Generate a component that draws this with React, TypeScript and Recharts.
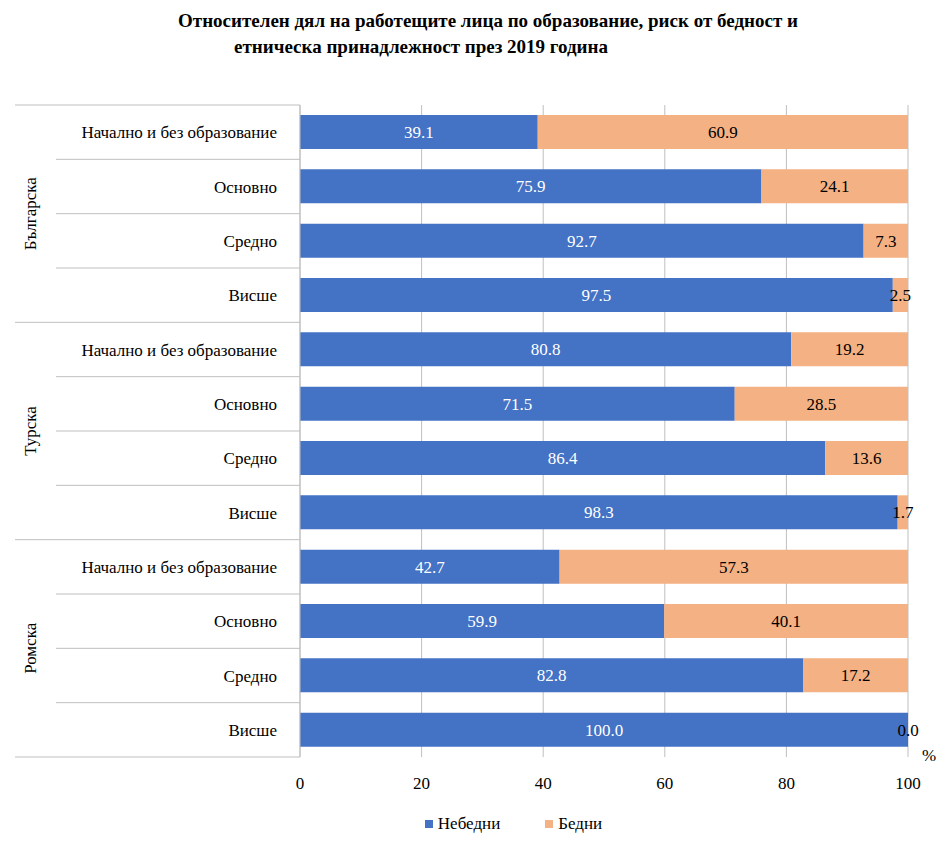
import { BarChart, Bar, XAxis, YAxis, CartesianGrid, LabelList } from 'recharts'

const groups = ['Българска', 'Турска', 'Ромска']
const levels = ['Начално и без образование', 'Основно', 'Средно', 'Висше']
const nonPoor = [39.1, 75.9, 92.7, 97.5, 80.8, 71.5, 86.4, 98.3, 42.7, 59.9, 82.8, 100.0]
const poor = [60.9, 24.1, 7.3, 2.5, 19.2, 28.5, 13.6, 1.7, 57.3, 40.1, 17.2, 0.0]
const xTicks = [0, 20, 40, 60, 80, 100]

const data = nonPoor.map((v, i) => ({
  key: `${groups[Math.floor(i / 4)]}-${i % 4}`,
  group: groups[Math.floor(i / 4)],
  level: levels[i % 4],
  nonPoor: v,
  poor: poor[i],
}))

const TOP = 105
const BOTTOM = 757
const BAND = (BOTTOM - TOP) / data.length
const FONT = "'Liberation Serif', 'Times New Roman', serif"

const CategoryTick = (props: any) => {
  const { x, y, payload, index } = props
  const row = data[index]
  const idx = index % 4
  const bottom = y + BAND / 2
  return (
    <g>
      <text x={x - 15} y={y} dy={6} textAnchor="end" style={{ fontFamily: FONT, fontSize: 17 }} fill="#000">
        {row ? row.level : payload.value}
      </text>
      {index === 0 && <line x1={15} x2={300} y1={y - BAND / 2} y2={y - BAND / 2} stroke="#bfbfbf" />}
      <line x1={idx === 3 ? 15 : 56} x2={300} y1={bottom} y2={bottom} stroke="#bfbfbf" />
      {idx === 1 && (
        <text
          x={36}
          y={bottom}
          textAnchor="middle"
          style={{ fontFamily: FONT, fontSize: 17 }}
          fill="#000"
          transform={`rotate(-90 36 ${bottom})`}
        >
          {row.group}
        </text>
      )}
    </g>
  )
}

// shows the poor value at the bar end when the poor segment has no width
const ZeroPoorLabel = (props: any) => {
  const { x, y, width, height, index } = props
  const row = data[index]
  if (!row || row.poor !== 0) return null
  return (
    <text x={x + width} y={y + height / 2} dy={6} textAnchor="middle" style={{ fontFamily: FONT, fontSize: 17 }} fill="#000">
      {row.poor.toFixed(1)}
    </text>
  )
}

const App = () => {
  const lineStyle = {
    position: 'absolute' as const,
    width: 952,
    textAlign: 'center' as const,
    fontFamily: FONT,
    fontWeight: 'bold' as const,
    fontSize: 19,
    lineHeight: '26px',
    whiteSpace: 'nowrap' as const,
  }
  return (
    <div style={{ position: 'absolute', left: 0, top: 0, width: 952, height: 862, background: '#fff' }}>
      <div style={{ ...lineStyle, left: 488 - 476, top: 8 }}>
        Относителен дял на работещите лица по образование, риск от бедност и
      </div>
      <div style={{ ...lineStyle, left: 421 - 476, top: 34 }}>етническа принадлежност през 2019 година</div>
      <BarChart
        width={952}
        height={862}
        data={data}
        layout="vertical"
        margin={{ top: TOP, right: 44, left: 0, bottom: 862 - BOTTOM - 30 }}
        barSize={34}
        style={{ fontFamily: FONT }}
      >
        <CartesianGrid horizontal={false} stroke="#bfbfbf" />
        <XAxis
          type="number"
          domain={[0, 100]}
          ticks={xTicks}
          height={30}
          axisLine={false}
          tickLine={false}
          tick={{ fontFamily: FONT, fontSize: 17, fill: '#000', style: { fontFamily: FONT } } as any}
          tickMargin={14}
        />
        <YAxis
          type="category"
          dataKey="key"
          width={300}
          axisLine={{ stroke: '#bfbfbf' }}
          tickLine={false}
          tick={<CategoryTick />}
          interval={0}
        />
        <Bar dataKey="nonPoor" stackId="a" fill="#4472c4" isAnimationActive={false}>
          <LabelList
            dataKey="nonPoor"
            position="center"
            formatter={(v: any) => Number(v).toFixed(1)}
            style={{ fill: '#fff', fontFamily: FONT, fontSize: 17 }}
          />
          <LabelList dataKey="poor" content={<ZeroPoorLabel />} />
        </Bar>
        <Bar dataKey="poor" stackId="a" fill="#f4b183" isAnimationActive={false}>
          <LabelList
            dataKey="poor"
            position="center"
            formatter={(v: any) => (Number(v) === 0 ? '' : Number(v).toFixed(1))}
            style={{ fill: '#000', fontFamily: FONT, fontSize: 17 }}
          />
        </Bar>
      </BarChart>
      <div style={{ position: 'absolute', left: 922, top: 746, fontFamily: FONT, fontSize: 17 }}>%</div>
      <div
        style={{
          position: 'absolute',
          left: 0,
          top: 814,
          width: 952,
          display: 'flex',
          justifyContent: 'center',
          gap: 45,
          fontFamily: FONT,
          fontSize: 17,
          paddingLeft: 75,
          boxSizing: 'border-box',
        }}
      >
        <span style={{ display: 'flex', alignItems: 'center', gap: 5 }}>
          <span style={{ width: 8, height: 8, background: '#4472c4', display: 'inline-block' }} />
          Небедни
        </span>
        <span style={{ display: 'flex', alignItems: 'center', gap: 5 }}>
          <span style={{ width: 8, height: 8, background: '#f4b183', display: 'inline-block' }} />
          Бедни
        </span>
      </div>
    </div>
  )
}

export default App
